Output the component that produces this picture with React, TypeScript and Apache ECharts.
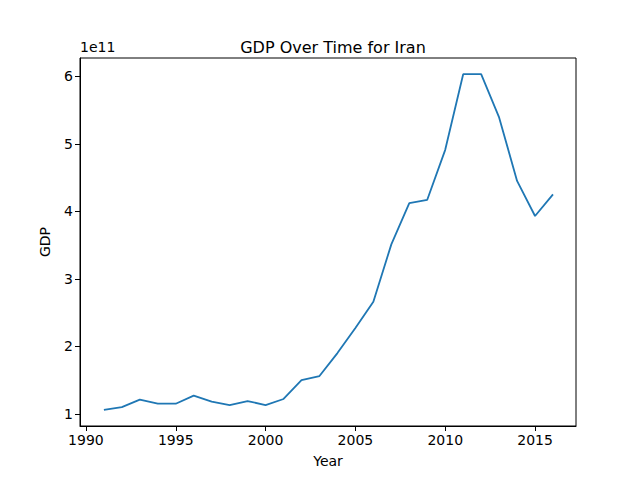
import React, { useEffect, useRef } from 'react';
import * as echarts from 'echarts';

const years = [1991, 1992, 1993, 1994, 1995, 1996, 1997, 1998, 1999, 2000, 2001, 2002, 2003, 2004, 2005, 2006, 2007, 2008, 2009, 2010, 2011, 2012, 2013, 2014, 2015, 2016];
const gdp = [1.06, 1.1, 1.21, 1.15, 1.15, 1.27, 1.18, 1.13, 1.19, 1.13, 1.22, 1.5, 1.56, 1.9, 2.27, 2.66, 3.51, 4.12, 4.17, 4.91, 6.03, 6.03, 5.39, 4.45, 3.93, 4.25].map((v) => v * 1e11);
const xTicks = [1990, 1995, 2000, 2005, 2010, 2015];
const yTicks = [1, 2, 3, 4, 5, 6].map((v) => v * 1e11);

const font = 'DejaVu Sans';

const App: React.FC = () => {
  const chartRef = useRef<HTMLDivElement>(null);

  useEffect(() => {
    if (!chartRef.current) return;
    const chart = echarts.init(chartRef.current, undefined, { renderer: 'svg' });
    chart.setOption({
      animation: false,
      title: {
        text: 'GDP Over Time for Iran',
        left: 328,
        textAlign: 'center',
        top: 34,
        textStyle: { fontFamily: font, fontSize: 16, fontWeight: 'normal', color: '#000' },
      },
      graphic: [
        { type: 'text', left: 80, top: 40, style: { text: '1e11', font: `14px "${font}"`, fill: '#000' } },
      ],
      grid: { left: 80, right: 64, top: 58, bottom: 54, show: true, borderColor: '#000', borderWidth: 1 },
      xAxis: {
        type: 'value',
        min: 1989.67,
        max: 2017.28,
        name: 'Year',
        nameLocation: 'middle',
        nameGap: 28,
        nameTextStyle: { fontFamily: font, fontSize: 14, color: '#000' },
        splitLine: { show: false },
        axisLine: { show: true, lineStyle: { color: '#000' } },
        axisTick: { show: true, length: 5, lineStyle: { color: '#000' }, customValues: xTicks },
        axisLabel: {
          fontFamily: font,
          fontSize: 14,
          color: '#000',
          margin: 7,
          customValues: xTicks,
          formatter: (v: number) => String(Math.round(v)),
        },
      },
      yAxis: {
        type: 'value',
        min: 0.82e11,
        max: 6.27e11,
        name: 'GDP',
        nameLocation: 'middle',
        nameGap: 28,
        nameTextStyle: { fontFamily: font, fontSize: 14, color: '#000' },
        splitLine: { show: false },
        axisLine: { show: true, lineStyle: { color: '#000' } },
        axisTick: { show: true, length: 5, lineStyle: { color: '#000' }, customValues: yTicks },
        axisLabel: {
          fontFamily: font,
          fontSize: 14,
          color: '#000',
          margin: 7,
          customValues: yTicks,
          formatter: (v: number) => String(Math.round(v / 1e11)),
        },
      },
      series: [
        {
          type: 'line',
          data: years.map((y, i) => [y, gdp[i]]),
          showSymbol: false,
          lineStyle: { color: '#1f77b4', width: 1.8 },
        },
      ],
    });
    return () => chart.dispose();
  }, []);

  return <div ref={chartRef} style={{ width: 640, height: 480, margin: -8 }} />;
};

export default App;
